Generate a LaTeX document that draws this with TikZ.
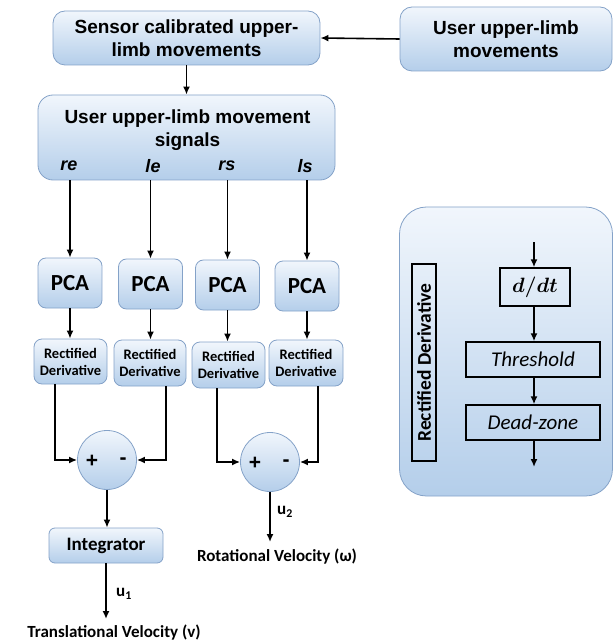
\documentclass[tikz,border=0pt]{standalone}
\usepackage{fontspec}
\setmainfont{Carlito}
\newfontfamily\arialf{Liberation Sans}
\usetikzlibrary{arrows.meta}
\definecolor{boxtop}{RGB}{241,246,252}
\definecolor{boxbot}{RGB}{180,206,234}
\definecolor{boxline}{RGB}{132,162,200}
\begin{document}
\begin{tikzpicture}[x=1pt,y=-1pt,
  bluebox/.style={draw=boxline, line width=0.8pt, top color=boxtop, bottom color=boxbot, rounded corners=#1, inner sep=0pt, align=center},
  bluebox/.default=8pt,
  arr/.style={-{Latex[length=8pt,width=7pt]}, line width=1.6pt},
  blk/.style={draw=black, line width=1.4pt, inner sep=0pt},
  arialtxt/.style={font={\arialf\bfseries\fontsize{19}{23}\selectfont}, align=center},
  sigtxt/.style={font={\arialf\bfseries\itshape\fontsize{18}{21}\selectfont}},
  pcatxt/.style={font={\bfseries\fontsize{23}{26}\selectfont}},
  rdtxt/.style={font={\bfseries\fontsize{14.5}{17}\selectfont}, align=center},
  labtxt/.style={font={\bfseries\fontsize{17}{20}\selectfont}},
  itxt/.style={font={\itshape\fontsize{21}{24}\selectfont}},
  pmtxt/.style={font={\arialf\bfseries\fontsize{21}{22}\selectfont}}]
\useasboundingbox (0,0) rectangle (613,644);

% top boxes
\node[bluebox=12pt, minimum width=267pt, minimum height=54pt, arialtxt] (sensor) at (186.5,38) {Sensor calibrated upper-\\limb movements};
\node[bluebox=12pt, minimum width=212pt, minimum height=64pt, arialtxt] (user) at (506,39) {User upper-limb\\movements};
\draw[arr] (user.west) -- (sensor.east);

\node[bluebox=15pt, minimum width=297pt, minimum height=85pt] (signals) at (186.5,137.5) {};
\draw[arr] (sensor.south) -- (signals.north);
\node[arialtxt] (sigtitle) at (187.5,130.5) {User upper-limb movement\\signals};
\node[sigtxt] (re) at (69,166) {re};
\node[sigtxt] (le) at (153,166) {le};
\node[sigtxt] (rs) at (227,166) {rs};
\node[sigtxt] (ls) at (305,166) {ls};

% PCA
\node[bluebox=8pt, minimum width=64pt, minimum height=50pt, pcatxt] (pca1) at (70,283) {PCA};
\node[bluebox=8pt, minimum width=64pt, minimum height=50pt, pcatxt] (pca2) at (150.5,284) {PCA};
\node[bluebox=8pt, minimum width=64pt, minimum height=50pt, pcatxt] (pca3) at (227.5,285) {PCA};
\node[bluebox=8pt, minimum width=64pt, minimum height=50pt, pcatxt] (pca4) at (307,286) {PCA};
\foreach \p in {pca1,pca2,pca3,pca4}{\draw[arr] (\p |- signals.south) -- (\p.north);}

% Rectified derivative
\node[bluebox=8pt, minimum width=73pt, minimum height=45pt, rdtxt] (rd1) at (70.5,361.5) {Rectified\\Derivative};
\node[bluebox=8pt, minimum width=72pt, minimum height=46pt, rdtxt] (rd2) at (150,363) {Rectified\\Derivative};
\node[bluebox=8pt, minimum width=73pt, minimum height=46pt, rdtxt] (rd3) at (228.5,365) {Rectified\\Derivative};
\node[bluebox=8pt, minimum width=74pt, minimum height=46pt, rdtxt] (rd4) at (306,363) {Rectified\\Derivative};
\draw[arr] (pca1.south) -- (pca1.south |- rd1.north);
\draw[arr] (pca2.south) -- (pca2.south |- rd2.north);
\draw[arr] (pca3.south) -- (pca3.south |- rd3.north);
\draw[arr] (pca4.south) -- (pca4.south |- rd4.north);

% summing junctions
\node[bluebox, circle, minimum size=59pt] (sum1) at (107,460) {};
\node[bluebox, circle, minimum size=59pt] (sum2) at (270,462) {};
\node[pmtxt] (p1) at (92,461) {+};
\node[pmtxt] (m1) at (123,461) {-};
\node[pmtxt] (p2) at (255,463) {+};
\node[pmtxt] (m2) at (286,463) {-};
\draw[arr] ([xshift=-15.5pt]rd1.south) |- (sum1.west);
\draw[arr] ([xshift=16pt]rd2.south) |- (sum1.east);
\draw[arr] ([xshift=-11.5pt]rd3.south) |- (sum2.west);
\draw[arr] ([xshift=12pt]rd4.south) |- (sum2.east);

% integrator and outputs
\node[bluebox=6pt, minimum width=114pt, minimum height=35pt, font={\bfseries\fontsize{19}{22}\selectfont}] (integ) at (106,545.5) {Integrator};
\draw[arr] (sum1.south) -- (sum1.south |- integ.north);
\coordinate (u1end) at (106,619);
\draw[arr] (integ.south) -- (u1end);
\node[labtxt] (u1) at (124,594) {u\textsubscript{1}};
\node[labtxt] (tv) at (114,633) {Translational Velocity (v)};
\coordinate (u2end) at (270,542);
\draw[arr] (sum2.south) -- (u2end);
\node[labtxt] (u2) at (285,512) {u\textsubscript{2}};
\node[labtxt] (rv) at (277,557) {Rotational Velocity (ω)};

% right panel
\node[bluebox=27pt, minimum width=213pt, minimum height=289pt] (panel) at (506,351.5) {};
\node[blk, rotate=90, minimum width=197pt, minimum height=24pt, font={\bfseries\fontsize{19.5}{22}\selectfont}] (rdv) at (424,362.5) {Rectified Derivative};
\node[blk, minimum width=70pt, minimum height=38pt, font={\fontsize{22}{24}\selectfont\boldmath}] (ddt) at (535,287) {$d/dt$};
\node[blk, minimum width=134pt, minimum height=35pt, itxt] (thr) at (533,359.5) {Threshold};
\node[blk, minimum width=134pt, minimum height=35pt, itxt] (dz) at (533,422.5) {Dead-zone};
\coordinate (din) at (534,242);
\coordinate (dout) at (534,467);
\draw[arr] (din) -- (din |- ddt.north);
\draw[arr] (din |- ddt.south) -- (din |- thr.north);
\draw[arr] (din |- thr.south) -- (din |- dz.north);
\draw[arr] (din |- dz.south) -- (dout);
\end{tikzpicture}
\end{document}
